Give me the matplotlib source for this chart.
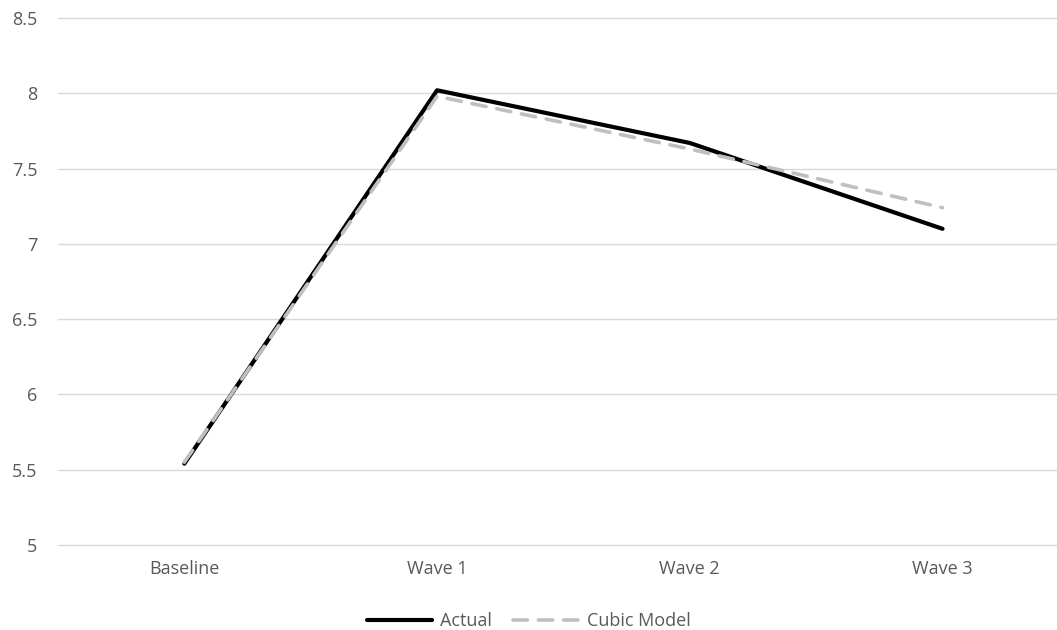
import numpy as np
import matplotlib.pyplot as plt

categories = ['Baseline', 'Wave 1', 'Wave 2', 'Wave 3']
actual = [5.54, 8.02, 7.67, 7.10]
cubic = [5.55, 7.98, 7.63, 7.24]

plt.rcParams['font.family'] = ['Open Sans', 'DejaVu Sans']

fig = plt.figure(figsize=(10.57, 6.3), dpi=100)
ax = fig.add_axes([58/1057, 1 - 545/630, 1 - 58/1057, (545 - 18)/630])

x = np.arange(len(categories))
ax.plot(x, actual, color='black', lw=3.0, solid_capstyle='round', label='Actual', zorder=3)
ax.plot(x, cubic, color='#BFBFBF', lw=2.6, dashes=(4, 3), dash_capstyle='round',
        label='Cubic Model', zorder=4)

ax.set_xlim(-0.5, 3.453)
ax.set_ylim(5, 8.5)
ax.set_yticks(np.arange(5, 8.51, 0.5))
ax.set_yticklabels(['5', '5.5', '6', '6.5', '7', '7.5', '8', '8.5'])
ax.set_xticks(x)
ax.set_xticklabels(categories)
ax.yaxis.grid(True, color='#D9D9D9', lw=1)
for gl in ax.get_ygridlines():
    gl.set_clip_on(False)
ax.set_axisbelow(True)
for s in ax.spines.values():
    s.set_visible(False)
ax.tick_params(length=0, colors='#595959', labelsize=13)
ax.tick_params(axis='x', pad=11)
ax.tick_params(axis='y', pad=15)

leg = fig.legend(loc='center', bbox_to_anchor=(0.5, 1 - 621/630), ncol=2, frameon=False,
                 fontsize=13, handlelength=3.6, handletextpad=0.45, columnspacing=1.2)
for t in leg.get_texts():
    t.set_color('#595959')

fig.savefig('out.png', dpi=100)
